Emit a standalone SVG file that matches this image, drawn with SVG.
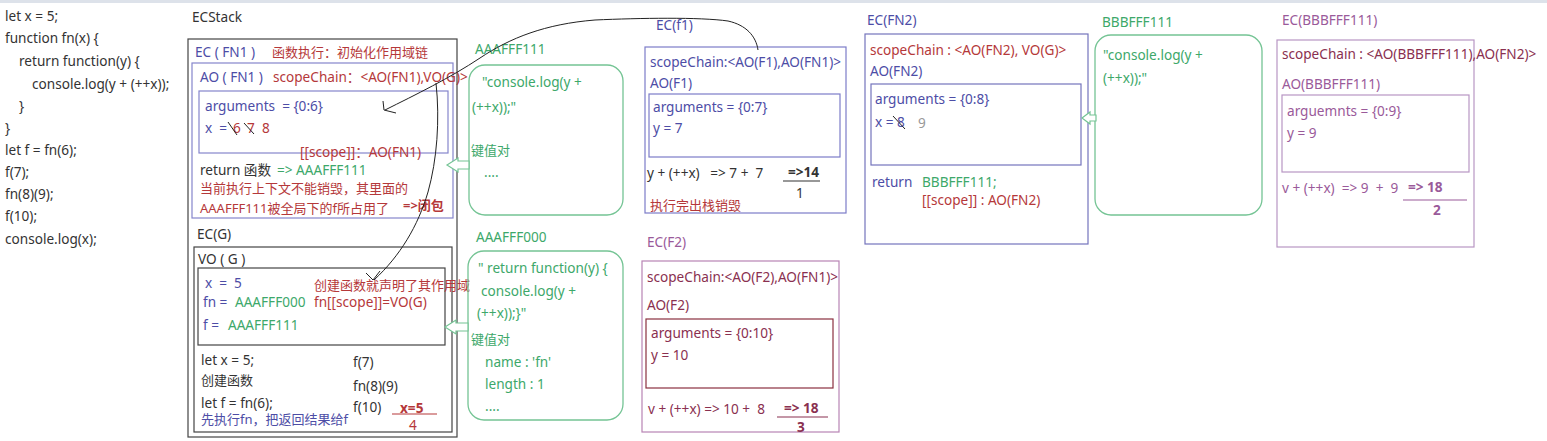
<svg xmlns="http://www.w3.org/2000/svg" width="1547" height="441" viewBox="0 0 1547 441">
<style>
text{font-family:"Noto Sans","Noto Sans CJK SC",sans-serif;font-size:13.6px;white-space:pre}
.cj{font-size:13px}
.dk{fill:#333}
.bl{fill:#4d4da6}
.rd{fill:#b5383a}
.gr{fill:#3da86a}
.pu{fill:#9a5a9a}
.mr{fill:#8a3050}
.gy{fill:#999}
.b{font-weight:bold}
.box{fill:none;stroke-width:1.2}
.gbox{fill:none;stroke:#74c494;stroke-width:1.3}
.hand{fill:none;stroke:#222;stroke-width:1}
.harrow{fill:#fff;stroke:#74c494;stroke-width:1.2}
</style>
<rect x="0" y="0" width="1547" height="441" fill="#fff"/>
<rect x="0" y="0" width="1547" height="3" fill="#dde2ea"/>

<g id="code">
<text x="5" y="21" class="dk">let x = 5;</text>
<text x="5" y="43" class="dk">function fn(x) {</text>
<text x="19" y="66" class="dk">return function(y) {</text>
<text x="32" y="89" class="dk">console.log(y + (++x));</text>
<text x="19" y="111" class="dk">}</text>
<text x="5" y="133" class="dk">}</text>
<text x="5" y="155" class="dk">let f = fn(6);</text>
<text x="5" y="177" class="dk">f(7);</text>
<text x="5" y="199" class="dk">fn(8)(9);</text>
<text x="5" y="221" class="dk">f(10);</text>
<text x="5" y="244" class="dk">console.log(x);</text>
</g>

<g id="ecstack">
<text x="192" y="22" class="dk">ECStack</text>
<rect x="188" y="39" width="269" height="398" class="box" stroke="#444"/>
</g>

<g id="ec-fn1">
<text x="195" y="57" class="bl">EC ( FN1 )</text>
<text x="272" y="57" class="rd cj">函数执行：初始化作用域链</text>
<rect x="192" y="63" width="261" height="155" class="box" stroke="#8585cc"/>
<text x="200" y="82" class="bl">AO ( FN1 )</text>
<text x="273" y="82" class="rd">scopeChain：&lt;AO(FN1),VO(G)&gt;</text>
<rect x="199" y="91" width="249" height="62" class="box" stroke="#8585cc"/>
<text x="205" y="111" class="bl">arguments  = {0:6}</text>
<text x="205" y="133" class="bl">x  =</text>
<text x="233" y="133" class="rd">6</text>
<text x="247" y="133" class="rd">7</text>
<text x="262" y="133" class="rd">8</text>
<path d="M228,122 L237,135 M244,123 L254,134" class="hand" stroke="#333"/>
<text x="300" y="157" class="rd">[[scope]]：AO(FN1)</text>
<text x="200" y="175" class="dk">return 函数</text>
<text x="277" y="175" class="gr">=&gt; AAAFFF111</text>
<text x="200" y="193" class="rd cj">当前执行上下文不能销毁，其里面的</text>
<text x="200" y="213" class="rd cj">AAAFFF111被全局下的f所占用了</text>
<text x="403" y="210" class="rd b cj">=&gt;闭包</text>
</g>

<g id="ec-g">
<text x="197" y="239" class="dk">EC(G)</text>
<rect x="194" y="247" width="258" height="185" class="box" stroke="#444"/>
<text x="198" y="264" class="dk">VO ( G )</text>
<rect x="198" y="268" width="247" height="77" class="box" stroke="#444"/>
<text x="205" y="288" class="bl">x  =  5</text>
<text x="203" y="307" class="bl">fn =</text>
<text x="235" y="307" class="gr">AAAFFF000</text>
<text x="203" y="330" class="bl">f =</text>
<text x="228" y="330" class="gr">AAAFFF111</text>
<text x="314" y="290" class="rd cj">创建函数就声明了其作用域</text>
<text x="314" y="307" class="rd">fn[[scope]]=VO(G)</text>
<text x="201" y="365" class="dk">let x = 5;</text>
<text x="201" y="385" class="dk cj">创建函数</text>
<text x="201" y="408" class="dk">let f = fn(6);</text>
<text x="201" y="424" class="bl cj">先执行fn，把返回结果给f</text>
<text x="353" y="367" class="dk">f(7)</text>
<text x="353" y="391" class="dk">fn(8)(9)</text>
<text x="353" y="412" class="dk">f(10)</text>
<text x="400" y="413" class="rd b">x=5</text>
<line x1="392" y1="414" x2="437" y2="414" stroke="#b5383a" stroke-width="1.2"/>
<text x="409" y="430" class="rd">4</text>
</g>

<g id="heap-aaafff111">
<text x="475" y="54" class="gr">AAAFFF111</text>
<rect x="469" y="65" width="154" height="150" rx="16" class="gbox"/>
<text x="482" y="87" class="gr">"console.log(y +</text>
<text x="472" y="112" class="gr">(++x));"</text>
<text x="471" y="155" class="gr cj">键值对</text>
<text x="484" y="177" class="gr">....</text>
</g>

<g id="heap-aaafff000">
<text x="476" y="242" class="gr">AAAFFF000</text>
<rect x="468" y="251" width="155" height="169" rx="16" class="gbox"/>
<text x="478" y="273" class="gr">" return function(y) {</text>
<text x="481" y="296" class="gr">console.log(y +</text>
<text x="477" y="318" class="gr">(++x));}"</text>
<text x="471" y="344" class="gr cj">键值对</text>
<text x="485" y="367" class="gr">name : 'fn'</text>
<text x="485" y="389" class="gr">length : 1</text>
<text x="485" y="411" class="gr">....</text>
</g>

<g id="ec-f1">
<text x="656" y="30" class="bl">EC(f1)</text>
<rect x="645" y="47" width="201" height="166" class="box" stroke="#7c7cc8"/>
<text x="650" y="67" class="bl">scopeChain:&lt;AO(F1),AO(FN1)&gt;</text>
<text x="650" y="88" class="bl">AO(F1)</text>
<rect x="649" y="94" width="191" height="63" class="box" stroke="#7c7cc8"/>
<text x="653" y="112" class="bl">arguments = {0:7}</text>
<text x="653" y="133" class="bl">y = 7</text>
<text x="647" y="178" class="dk">y + (++x)   =&gt; 7 +  7</text>
<text x="788" y="177" class="dk b">=&gt;14</text>
<line x1="783" y1="181" x2="820" y2="181" stroke="#333" stroke-width="1.2"/>
<text x="796" y="198" class="dk">1</text>
<text x="650" y="210" class="rd cj">执行完出栈销毁</text>
</g>

<g id="ec-f2">
<text x="647" y="247" class="pu">EC(F2)</text>
<rect x="642" y="261" width="197" height="171" class="box" stroke="#b884b4"/>
<text x="647" y="282" class="mr">scopeChain:&lt;AO(F2),AO(FN1)&gt;</text>
<text x="647" y="310" class="mr">AO(F2)</text>
<rect x="646" y="319" width="187" height="69" class="box" stroke="#8a3040"/>
<text x="651" y="338" class="mr">arguments = {0:10}</text>
<text x="651" y="360" class="mr">y = 10</text>
<text x="648" y="414" class="mr">v + (++x) =&gt; 10 +  8</text>
<text x="784" y="413" class="mr b">=&gt; 18</text>
<line x1="777" y1="417" x2="828" y2="417" stroke="#8a3050" stroke-width="1.2"/>
<text x="797" y="432" class="mr b">3</text>
</g>

<g id="ec-fn2">
<text x="867" y="25" class="bl">EC(FN2)</text>
<rect x="865" y="34" width="223" height="210" class="box" stroke="#7474bc"/>
<text x="870" y="55" class="rd">scopeChain : &lt;AO(FN2), VO(G)&gt;</text>
<text x="870" y="76" class="bl">AO(FN2)</text>
<rect x="871" y="84" width="210" height="81" class="box" stroke="#7474bc"/>
<text x="875" y="104" class="bl">arguments = {0:8}</text>
<text x="875" y="127" class="bl">x =</text>
<text x="897" y="127" class="bl">8</text>
<path d="M893,116 L905,129" class="hand" stroke="#555"/>
<text x="918" y="128" class="gy">9</text>
<text x="872" y="187" class="bl">return</text>
<text x="922" y="187" class="gr">BBBFFF111;</text>
<text x="922" y="205" class="rd">[[scope]] : AO(FN2)</text>
</g>

<g id="heap-bbbfff111">
<text x="1102" y="27" class="gr">BBBFFF111</text>
<rect x="1095" y="35" width="167" height="180" rx="16" class="gbox"/>
<text x="1103" y="60" class="gr">"console.log(y +</text>
<text x="1103" y="83" class="gr">(++x));"</text>
</g>

<g id="ec-bbbfff111">
<text x="1282" y="25" class="pu">EC(BBBFFF111)</text>
<rect x="1277" y="40" width="197" height="207" class="box" stroke="#b896c4"/>
<text x="1282" y="59" class="mr">scopeChain : &lt;AO(BBBFFF111),AO(FN2)&gt;</text>
<text x="1282" y="89" class="pu">AO(BBBFFF111)</text>
<rect x="1282" y="95" width="187" height="77" class="box" stroke="#b896c4"/>
<text x="1287" y="116" class="pu">arguemnts = {0:9}</text>
<text x="1287" y="138" class="pu">y = 9</text>
<text x="1282" y="193" class="pu">v + (++x)  =&gt; 9  +  9</text>
<text x="1408" y="192" class="pu b">=&gt; 18</text>
<line x1="1403" y1="200" x2="1467" y2="200" stroke="#9a5a9a" stroke-width="1.2"/>
<text x="1433" y="215" class="pu b">2</text>
</g>

<g id="connectors">
<path d="M758,50 C756,36 746,25 728,21 C700,17 640,18 595,20 C545,24 510,38 480,58 C450,78 415,95 385,110" class="hand" stroke="#222"/>
<path d="M383,101 L384,110 L396,113" class="hand" stroke="#222"/>
<path d="M436,83 C440,120 437,160 428,192 C418,226 400,256 374,280" class="hand" stroke="#222"/>
<path d="M366,273 L373,280 L380,271" class="hand" stroke="#222"/>
<polygon points="447,165 458,158 458,161 469,161 469,169 458,169 458,172" class="harrow"/>
<polygon points="445,327 456,320 456,323 468,323 468,331 456,331 456,334" class="harrow"/>
<polygon points="1082,118 1090,112 1090,115 1096,115 1096,121 1090,121 1090,124" class="harrow"/>
</g>
</svg>
